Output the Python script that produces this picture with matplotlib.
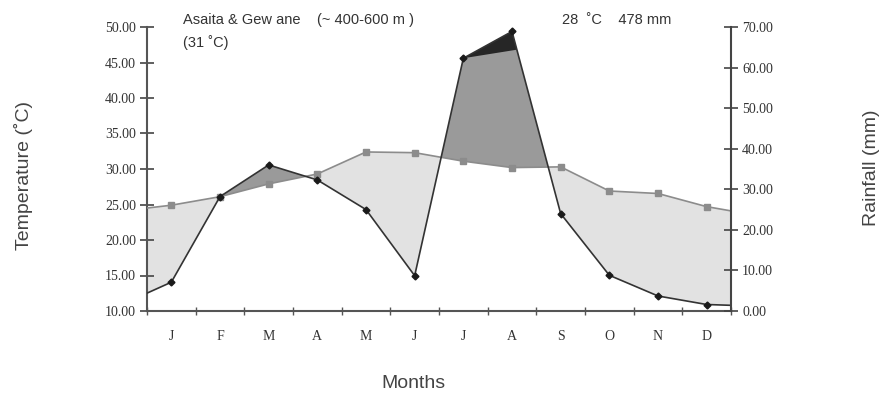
import matplotlib
matplotlib.use("Agg")
import matplotlib.pyplot as plt
import numpy as np

# ---------------- data ----------------
months = ["J", "F", "M", "A", "M", "J", "J", "A", "S", "O", "N", "D"]
temperature = [24.9, 26.1, 27.9, 29.3, 32.4, 32.3, 31.1, 30.2, 30.3, 26.9, 26.55, 24.7]   # deg C
rainfall = [7.1, 28.2, 36.0, 32.3, 25.0, 8.7, 62.3, 68.9, 24.0, 8.8, 3.7, 1.6]           # mm
temp_edges = [24.5, 24.1]   # line values at the left / right frame
rain_edges = [4.4, 1.4]

temp_ticks = [10, 15, 20, 25, 30, 35, 40, 45, 50]
rain_ticks = [0, 10, 20, 30, 40, 50, 60, 70]

# ---------------- style ----------------
T_MIN, T_MAX = 10, 50
R_MIN, R_MAX = 0, 70
LIGHT = "#e2e2e2"
DARK = "#9a9a9a"
BLACK = "#262626"
TEMP_COL = "#8c8c8c"
RAIN_COL = "#333333"
CAP_FRAC = 0.1

def rain_to_temp(r):
    r = np.asarray(r, dtype=float)
    return T_MIN + (r - R_MIN) * (T_MAX - T_MIN) / (R_MAX - R_MIN)

fig = plt.figure(figsize=(8.83, 3.93), dpi=100)
ax = fig.add_axes([147 / 883, 1 - 311 / 393, 584 / 883, 284 / 393])

n = len(months)
xc = np.arange(n) + 0.5
x = np.concatenate([[0], xc, [n]])
t = np.concatenate([[temp_edges[0]], temperature, [temp_edges[1]]])
r = rain_to_temp(np.concatenate([[rain_edges[0]], rainfall, [rain_edges[1]]]))

ax.fill_between(x, t, r, where=t >= r, interpolate=True, color=LIGHT, lw=0, zorder=1)
ax.fill_between(x, t, r, where=r >= t, interpolate=True, color=DARK, lw=0, zorder=1)

# black cap above the two wettest months
jul, aug, sep = 7, 8, 9  # indexes in x/r arrays
px = x[aug] + CAP_FRAC * (x[sep] - x[aug])
py = r[aug] + CAP_FRAC * (r[sep] - r[aug])
ax.fill([x[jul], x[aug], px], [r[jul], r[aug], py], color=BLACK, lw=0, zorder=2)

ax.plot(x, t, color=TEMP_COL, lw=1.2, marker="s", ms=4, mfc=TEMP_COL, mec=TEMP_COL,
        markevery=list(range(1, n + 1)), zorder=3)
ax.plot(x, r, color=RAIN_COL, lw=1.2, marker="D", ms=3.5, mfc="#1a1a1a", mec="#1a1a1a",
        markevery=list(range(1, n + 1)), zorder=4)

ax.set_xlim(0, n)
ax.set_ylim(T_MIN, T_MAX)
ax.set_yticks(temp_ticks)
ax.set_yticklabels([f"{v:.2f}" for v in temp_ticks], fontfamily="Liberation Serif", fontsize=10, color="#333333")
ax.set_xticks(np.arange(0, n + 1))
ax.set_xticklabels([])
ax.set_xticks(xc, minor=True)
ax.set_xticklabels(months, minor=True, fontfamily="Liberation Serif", fontsize=10, color="#333333")
ax.tick_params(axis="x", which="major", direction="inout", length=6, width=1, color="#555555")
ax.tick_params(axis="x", which="minor", length=0, pad=14)
ax.tick_params(axis="y", direction="inout", length=10, width=1.2, color="#444444", pad=3)

for s in ["top", "right"]:
    ax.spines[s].set_visible(False)
for s in ["left", "bottom"]:
    ax.spines[s].set_color("#555555")
    ax.spines[s].set_linewidth(1.5)

ax2 = ax.twinx()
ax2.set_ylim(R_MIN, R_MAX)
ax2.set_yticks(rain_ticks)
ax2.set_yticklabels([f"{v:.2f}" for v in rain_ticks], fontfamily="Liberation Serif", fontsize=10, color="#333333")
ax2.tick_params(axis="y", direction="inout", length=10, width=1.2, color="#444444", pad=3)
for s in ["top", "left", "bottom"]:
    ax2.spines[s].set_visible(False)
ax2.spines["right"].set_color("#444444")
ax2.spines["right"].set_linewidth(1.5)

fs_lab = 14
fig.text(24 / 883, 1 - 175 / 393, "Temperature (˚C)", rotation=90, ha="center", va="center",
         fontfamily="Liberation Sans", fontsize=fs_lab, color="#444444")
fig.text(871 / 883, 1 - 168 / 393, "Rainfall (mm)", rotation=90, ha="center", va="center",
         fontfamily="Liberation Sans", fontsize=fs_lab, color="#444444")
fig.text(413 / 883, 1 - 383 / 393, "Months", ha="center", va="center",
         fontfamily="Liberation Sans", fontsize=fs_lab, color="#444444")

fs_t = 10.5
fig.text(183 / 883, 1 - 20 / 393, "Asaita & Gew ane    (~ 400-600 m )", ha="left", va="center",
         fontfamily="Liberation Sans", fontsize=fs_t, color="#333333")
fig.text(183 / 883, 1 - 43 / 393, "(31 ˚C)", ha="left", va="center",
         fontfamily="Liberation Sans", fontsize=fs_t, color="#333333")
fig.text(562 / 883, 1 - 20 / 393, "28  ˚C    478 mm", ha="left", va="center",
         fontfamily="Liberation Sans", fontsize=fs_t, color="#333333")

fig.savefig("out.png", dpi=100)
